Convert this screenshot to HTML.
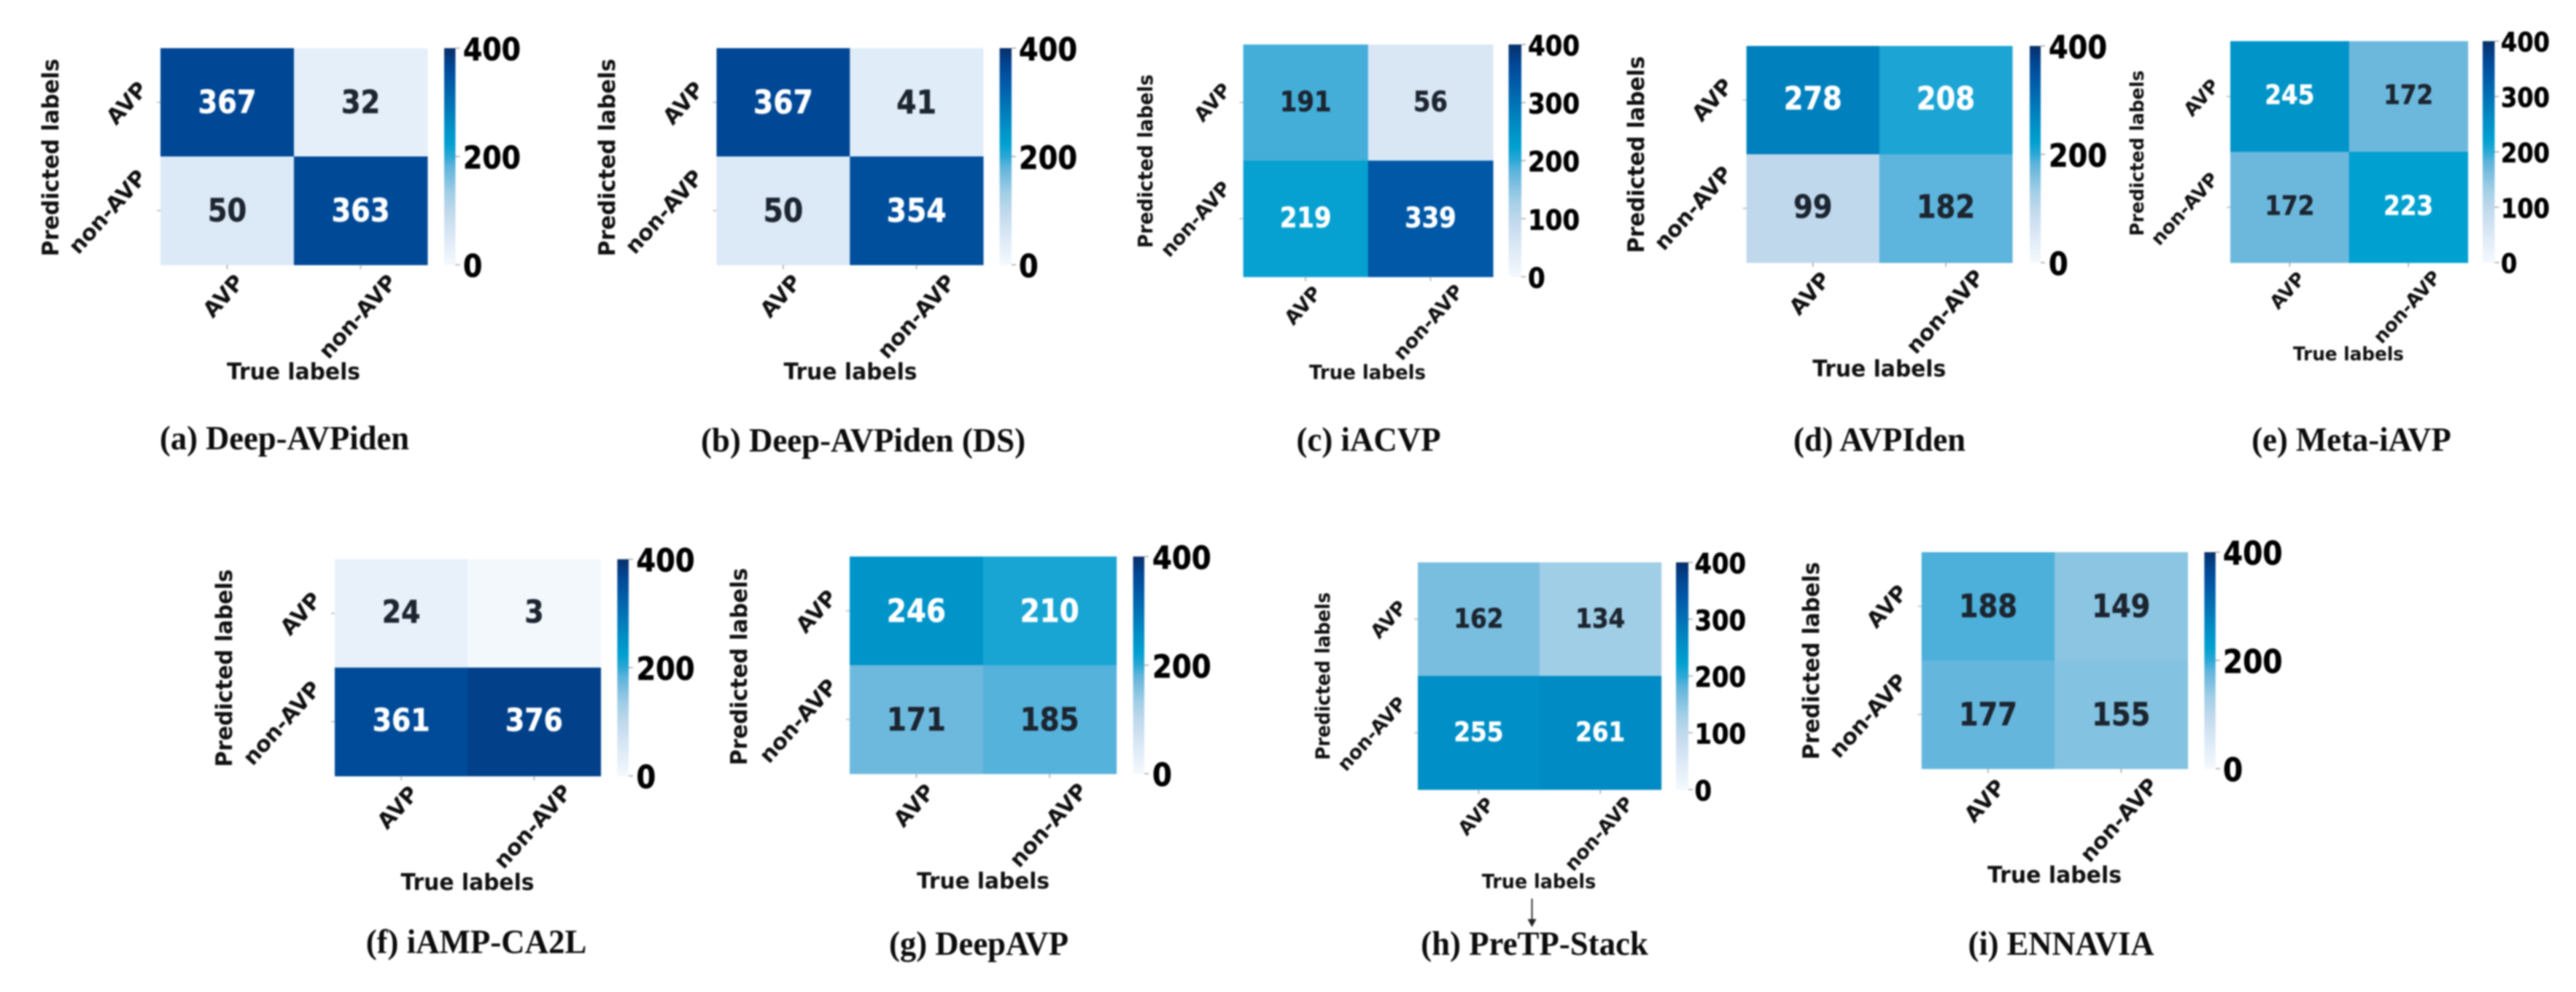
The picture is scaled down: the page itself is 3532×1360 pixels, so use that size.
<!DOCTYPE html>
<html lang="en">
<head>
<meta charset="utf-8">
<title>Confusion matrices of antiviral peptide predictors</title>
<style>
html,body{margin:0;padding:0;background:#fff;}
body{width:3532px;height:1360px;overflow:hidden;}
svg{display:block;filter:blur(1px);}
.dv{font-family:"DejaVu Sans","Liberation Sans",sans-serif;font-weight:700;}
.cap{font-family:"Liberation Serif",serif;font-weight:700;fill:#0c0c0c;}
</style>
</head>
<body>
<svg id="figure" xmlns="http://www.w3.org/2000/svg" width="3532" height="1360" viewBox="0 0 3532 1360">
  <defs id="defs"></defs>
  <rect width="3532" height="1360" fill="#ffffff"></rect>
  <g id="panels"></g>
  <g>
    <line x1="2100.5" y1="1232" x2="2100.5" y2="1266" stroke="#333" stroke-width="2"></line>
    <polygon points="2094.5,1260 2106.5,1260 2100.5,1271" fill="#222"></polygon>
  </g>
</svg>
<script>
// ---- chart data ----
const classLabels = ["AVP", "non-AVP"];
const captions = ["(a) Deep-AVPiden", "(b) Deep-AVPiden (DS)", "(c) iACVP", "(d) AVPIden", "(e) Meta-iAVP", "(f) iAMP-CA2L", "(g) DeepAVP", "(h) PreTP-Stack", "(i) ENNAVIA"];
const matrixA = [[367, 32], [50, 363]];
const matrixB = [[367, 41], [50, 354]];
const matrixC = [[191, 56], [219, 339]];
const matrixD = [[278, 208], [99, 182]];
const matrixE = [[245, 172], [172, 223]];
const matrixF = [[24, 3], [361, 376]];
const matrixG = [[246, 210], [171, 185]];
const matrixH = [[162, 134], [255, 261]];
const matrixI = [[188, 149], [177, 155]];
const matrices = [matrixA, matrixB, matrixC, matrixD, matrixE, matrixF, matrixG, matrixH, matrixI];
const ticksCoarse = [0, 200, 400];
const ticksFine = [0, 100, 200, 300, 400];
const colorbarTicks = [ticksCoarse, ticksCoarse, ticksFine, ticksCoarse, ticksFine, ticksCoarse, ticksCoarse, ticksFine, ticksCoarse];
const axisTitleX = "True labels";
const axisTitleY = "Predicted labels";
const valueMax = 400;
const whiteTextAbove = 200;

// ---- colour map ----
const colorStopValues = [0, 50, 100, 134, 172, 182, 200, 223, 255, 278, 339, 367, 400];
const colorStopHex = ["#f4f9fd", "#dce9f6", "#bfd8ec", "#9fcee6", "#6cb8dd", "#5db4dc", "#2ba8d6", "#00a0d0", "#008fc6", "#0080bd", "#0058a6", "#004795", "#08306b"];

// ---- page layout (one frame per panel, independent of the data) ----
const frames = [
 {hm:[220,586,66,363],       cb:[609,624.5],    tx:635,  tw:79, an:80, tl:30,   yl:[80,216,271],    yt:[[173.5,141],[147,290]],  xt:[[306,405.5],[490,433.6]], xl:[402.5,520,183], cap:[390,616,342],  ady:-1},
 {hm:[982.5,1348,66,363],    cb:[1370.6,1387],  tx:1397, tw:80, an:82, tl:30,   yl:[843,216,271],   yt:[[936.6,141],[910,290]],  xt:[[1070,405.5],[1256,433.6]], xl:[1166,520,183], cap:[1183.5,619,445], ady:-1},
 {hm:[1704.6,2047,61,379.4], cb:[2068.5,2086],  tx:2095, tw:71, an:70.6,tl:27,  yl:[1580,221,238],  yt:[[1662,140],[1639,300]],  xt:[[1786,418.5],[1958,441.5]], xl:[1875,519.5,160], cap:[1876.5,618,198], ady:-2},
 {hm:[2394.6,2759,63,360],   cb:[2783,2798],    tx:2809, tw:80, an:80, tl:30,   yl:[2254,212,270],  yt:[[2347.5,136.6],[2321,285]], xt:[[2481,402],[2666.6,427]], xl:[2576.7,516,183], cap:[2577,618,236], ady:-3},
 {hm:[3058,3383.6,56.4,360], cb:[3404,3420.5],  tx:3429, tw:67, an:68, tl:26,   yl:[2939,210,227],  yt:[[3018,133.6],[2995,286]], xt:[[3136,398],[3300,420.6]], xl:[3220,494,152], cap:[3224,618,273.5], ady:-3},
 {hm:[459,823.5,766.7,1063.8],cb:[846.4,862],   tx:872.5,tw:80, an:79, tl:30,   yl:[318,916,271],   yt:[[412,841],[386,991]],    xt:[[545,1106.7],[730,1132.7]], xl:[641,1220,183], cap:[653,1306.6,302.6], ady:-3},
 {hm:[1165,1530.6,763,1060.7],cb:[1553.6,1569], tx:1580, tw:80.7,an:81,tl:30,   yl:[1024,914,270.5],yt:[[1119,838],[1094,988]],  xt:[[1253,1104],[1437,1131]], xl:[1348,1218,182], cap:[1342,1309,246], ady:-1},
 {hm:[1944,2277.6,771,1082.4],cb:[2298,2315],   tx:2323.5,tw:70.5,an:68,tl:26.5,yl:[1823,927,230],  yt:[[1903.6,849],[1880.6,1005.7]], xt:[[2023.5,1119],[2192,1142.7]], xl:[2110,1217.7,156.6], cap:[2104,1309,311.7], ady:-2},
 {hm:[2634.7,2999.5,757,1053.8],cb:[3022.4,3037.8],tx:3048,tw:81.6,an:80,tl:30, yl:[2494,906,271],   yt:[[2587,831],[2561,981]],  xt:[[2721,1097.6],[2905,1124]], xl:[2817,1210,184], cap:[2826,1309,255], ady:-1}
];
const tallGlyphFactor = 1.13;

// ---- scales ----
function hexToRgb(hex){
  return [parseInt(hex.slice(1,3),16), parseInt(hex.slice(3,5),16), parseInt(hex.slice(5,7),16)];
}
function colorScale(v){
  const t = Math.max(0, Math.min(valueMax, v));
  let i = 0;
  while (i < colorStopValues.length - 2 && t > colorStopValues[i+1]) i++;
  const f = (t - colorStopValues[i]) / (colorStopValues[i+1] - colorStopValues[i]);
  const a = hexToRgb(colorStopHex[i]);
  const b = hexToRgb(colorStopHex[i+1]);
  return "rgb(" + a.map(function(c,k){ return Math.round(c + (b[k]-c)*f); }).join(",") + ")";
}
function cellX(fr, col){ return fr.hm[0] + col * (fr.hm[1]-fr.hm[0]) / classLabels.length; }
function cellY(fr, row){ return fr.hm[2] + row * (fr.hm[3]-fr.hm[2]) / classLabels.length; }
function barY(fr, v){ return fr.hm[3] - (v / valueMax) * (fr.hm[3]-fr.hm[2]); }

const NS = "http://www.w3.org/2000/svg";
function make(tag, parent, attrs){
  const node = document.createElementNS(NS, tag);
  Object.keys(attrs).forEach(function(k){ node.setAttribute(k, attrs[k]); });
  parent.appendChild(node);
  return node;
}

// ---- shared colorbar gradient ----
const grad = make("linearGradient", document.getElementById("defs"), {id:"cbarGrad", x1:0, y1:1, x2:0, y2:0});
colorStopValues.forEach(function(v, i){
  make("stop", grad, {offset:(v/valueMax), "stop-color":colorStopHex[i]});
});

// ---- draw ----
const root = document.getElementById("panels");
matrices.forEach(function(matrix, p){
  const fr = frames[p];
  const panel = make("g", root, {});
  
  

  const cw = (fr.hm[1]-fr.hm[0]) / classLabels.length;
  const ch = (fr.hm[3]-fr.hm[2]) / classLabels.length;
  const annotBase = fr.an / 2.088;
  const annotSize = annotBase * tallGlyphFactor;

  matrix.forEach(function(rowVals, r){
    rowVals.forEach(function(v, c){
      const cell = make("rect", panel, {x:cellX(fr,c), y:cellY(fr,r), width:cw+0.5, height:ch+0.5, fill:colorScale(v)});
      
      
      const isLight = v > whiteTextAbove;
      const num = make("text", panel, {x:cellX(fr,c)+cw/2, y:cellY(fr,r)+ch/2+annotSize*0.365+fr.ady, "text-anchor":"middle", "font-size":annotSize, textLength:String(v).length*fr.an/3, lengthAdjust:"spacingAndGlyphs", fill:(isLight ? "#ffffff" : "#1c2530"), stroke:(isLight ? "#ffffff" : "#1c2530"), "stroke-width":0.6, "class":"dv"});
      num.textContent = String(v);
      
      
    });
  });

  // category ticks and labels
  classLabels.forEach(function(label, i){
    const xTick = make("line", panel, {x1:cellX(fr,i)+cw/2, x2:cellX(fr,i)+cw/2, y1:fr.hm[3], y2:fr.hm[3]+6, stroke:"#aaa", "stroke-width":1.6});
    
    
    const yTick = make("line", panel, {x1:fr.hm[0]-5, x2:fr.hm[0], y1:cellY(fr,i)+ch/2, y2:cellY(fr,i)+ch/2, stroke:"#bbb", "stroke-width":1.6});
    
    

    const xt = fr.xt[i];
    const xLab = make("text", panel, {x:xt[0], y:xt[1]+fr.tl*0.36, "text-anchor":"middle", "font-size":fr.tl, fill:"#101010", "class":"dv", transform:"rotate(-48 "+xt[0]+" "+xt[1]+")"});
    xLab.textContent = label;
    
    

    const yt = fr.yt[i];
    const yLab = make("text", panel, {x:yt[0], y:yt[1]+fr.tl*0.36, "text-anchor":"middle", "font-size":fr.tl, fill:"#101010", "class":"dv", transform:"rotate(-48 "+yt[0]+" "+yt[1]+")"});
    yLab.textContent = label;
    
    
  });

  // axis titles
  const xTitle = make("text", panel, {x:fr.xl[0], y:fr.xl[1], "text-anchor":"middle", "font-size":fr.xl[2]/6.26*1.05, textLength:fr.xl[2], lengthAdjust:"spacingAndGlyphs", fill:"#101010", "class":"dv"});
  xTitle.textContent = axisTitleX;
  
  

  const yTitle = make("text", panel, {x:fr.yl[0], y:fr.yl[1], "text-anchor":"middle", "font-size":fr.yl[2]/9.126*1.05, textLength:fr.yl[2], lengthAdjust:"spacingAndGlyphs", fill:"#101010", "class":"dv", transform:"rotate(-90 "+fr.yl[0]+" "+fr.yl[1]+")"});
  yTitle.textContent = axisTitleY;
  
  

  // colorbar
  const bar = make("rect", panel, {x:fr.cb[0], y:fr.hm[2], width:fr.cb[1]-fr.cb[0], height:fr.hm[3]-fr.hm[2], fill:"url(#cbarGrad)"});
  
  
  const tickSize = fr.tw / 2.088 * tallGlyphFactor;
  colorbarTicks[p].forEach(function(v){
    const mark = make("line", panel, {x1:fr.cb[1], x2:fr.cb[1]+6, y1:barY(fr,v), y2:barY(fr,v), stroke:"#aaa", "stroke-width":1.6});
    
    
    const lab = make("text", panel, {x:fr.tx, y:barY(fr,v)+tickSize*0.365+1, "font-size":tickSize, textLength:String(v).length*fr.tw/3, lengthAdjust:"spacingAndGlyphs", fill:"#000000", stroke:"#000000", "stroke-width":0.6, "class":"dv"});
    lab.textContent = String(v);
    
    
  });

  // caption
  const cap = make("text", panel, {x:fr.cap[0], y:fr.cap[1], "text-anchor":"middle", "font-size":47, textLength:fr.cap[2], lengthAdjust:"spacingAndGlyphs", "class":"cap"});
  cap.textContent = captions[p];
  
  
});
</script>
</body>
</html>
